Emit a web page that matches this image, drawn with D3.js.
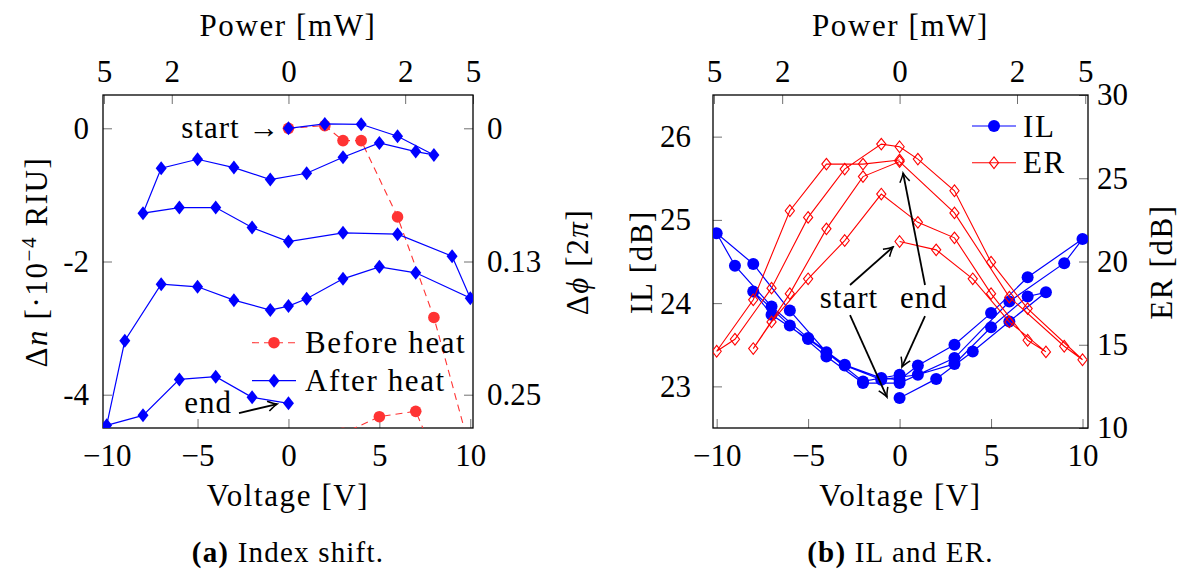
<!DOCTYPE html>
<html><head><meta charset="utf-8">
<script src="https://cdn.jsdelivr.net/npm/d3@7"></script>
<style>
body{margin:0;background:#fff;}
svg text{font-family:"Liberation Serif",serif;fill:#000;}
</style></head><body>
<svg id="c" width="1182" height="576"></svg>
<script>
// ---------- data ----------
// sweep order of the bias voltage (V), same for all "after heat" / IL / ER measurements
const voltage = [0,2,4,6,8, 7,5,3,1,-1,-3,-5,-7, -8,-6,-4,-2,0,3,6,9,10, 7,5,3,1,0,-1,-3,-5,-7,-9,-10, -8,-6,-4,-2,0];
// (a) index shift after heat [1e-4 RIU]
const deltaNAfter = [0,0.066,0.06,-0.12,-0.40, -0.35,-0.22,-0.435,-0.675,-0.77,-0.59,-0.465,-0.6,
  -1.275,-1.19,-1.19,-1.49,-1.70,-1.57,-1.59,-1.92,-2.55,
  -2.17,-2.08,-2.26,-2.56,-2.67,-2.73,-2.58,-2.38,-2.34,-3.19,-4.46,
  -4.31,-3.77,-3.73,-4.04,-4.13];
// (a) index shift before heat
const voltageBefore = [0,2,3,4,6,8,10,8,7,5,3];
const deltaNBefore = [0,0.04,-0.185,-0.185,-1.33,-2.84,-4.84,-4.89,-4.25,-4.33,-4.58];
// (b) insertion loss [dB]
const il = [22.86,23.09,23.42,23.78,24.13, 24.08,23.71,23.27,23.14,23.08,23.25,23.57,23.86,
  24.14,23.73,23.36,23.04,23.04,23.34,24.02,24.48,24.77,
  24.31,23.88,23.50,23.25,23.08,23.10,23.26,23.58,23.96,24.45,24.84,
  24.47,23.91,23.41,23.06,23.14];
// (b) extinction ratio [dB]
const er = [21.2,20.7,18.96,16.37,14.57, 15.27,18.07,21.42,22.35,24.05,21.26,18.96,16.37,
  14.77,18.07,21.96,25.1,26.0,22.92,17.86,14.91,14.1,
  17.17,19.96,24.25,26.15,26.89,27.05,25.55,22.65,18.4,15.33,14.61,
  17.7,23.05,25.85,25.85,26.1];
// ticks
const voltageTicks = [-10,-5,0,5,10];
const deltaNTicks = [0,-2,-4];
const deltaNTickLabels = ["0","-2","-4"];
const phaseTickLabels = ["0","0.13","0.25"];
const ilTicks = [23,24,25,26];
const erTicks = [10,15,20,25,30];
const powerLabels = [5,2,0,2,5];
const powerSign = [-1,-1,0,1,1];
const heaterR = 20.6e3; // ohm
const powerTickV = powerLabels.map((p,i)=>powerSign[i]*Math.sqrt(p*1e-3*heaterR));

// ---------- drawing ----------
const svg = d3.select("#c");
const FS = 31, LS = 1.6;
const defs = svg.append("defs");
defs.append("marker").attr("id","arr").attr("viewBox","-12 -8 14 16")
  .attr("refX",0).attr("refY",0).attr("markerWidth",14).attr("markerHeight",16)
  .attr("markerUnits","userSpaceOnUse").attr("orient","auto")
  .append("path").attr("d","M-9,-5 Q-3,-1 0,0 Q-3,1 -9,5")
  .attr("fill","none").attr("stroke","#000").attr("stroke-width",1.5);

const diamond = (w,h)=>`M0,${-h}L${w},0L0,${h}L${-w},0Z`;
const minus = d => d<0 ? "\u2212"+Math.abs(d) : String(d);

function frame(x0,x1,y0,y1,id){
  defs.append("clipPath").attr("id",id).append("rect")
    .attr("x",x0).attr("y",y0).attr("width",x1-x0).attr("height",y1-y0);
}
function styleAxis(g){
  g.select(".domain").remove();
  g.selectAll(".tick line").attr("stroke","#707070").attr("stroke-width",1);
  g.selectAll(".tick text").attr("font-family","Liberation Serif").attr("font-size",FS).attr("fill","#000");
  g.attr("font-family",null).attr("font-size",null);
}
function axes(x,y,x0,x1,y0,y1,opt){
  styleAxis(svg.append("g").attr("transform",`translate(0,${y1})`)
    .call(d3.axisBottom(x).tickValues(voltageTicks).tickFormat(minus).tickSize(-9).tickSizeOuter(0).tickPadding(16)));
  styleAxis(svg.append("g").attr("transform",`translate(0,${y0})`)
    .call(d3.axisTop(x).tickValues(powerTickV).tickFormat((d,i)=>powerLabels[i]).tickSize(-9).tickSizeOuter(0).tickPadding(13)));
  styleAxis(svg.append("g").attr("transform",`translate(${x0},0)`)
    .call(d3.axisLeft(opt.yl).tickValues(opt.ylTicks).tickFormat(opt.ylFmt).tickSize(-9).tickSizeOuter(0).tickPadding(opt.lpad)));
  styleAxis(svg.append("g").attr("transform",`translate(${x1},0)`)
    .call(d3.axisRight(opt.yr).tickValues(opt.yrTicks).tickFormat(opt.yrFmt).tickSize(-9).tickSizeOuter(0).tickPadding(opt.rpad)));
  svg.append("rect").attr("x",x0).attr("y",y0).attr("width",x1-x0).attr("height",y1-y0)
    .attr("fill","none").attr("stroke","#000").attr("stroke-width",1.3);
  const cx=(x0+x1)/2;
  svg.append("text").attr("x",cx).attr("y",36).attr("text-anchor","middle").attr("font-size",FS).attr("letter-spacing",LS).text("Power [mW]");
  svg.append("text").attr("x",cx).attr("y",506).attr("text-anchor","middle").attr("font-size",FS).attr("letter-spacing",LS).text("Voltage [V]");
}

// ===== panel (a) =====
const ax0=103, ax1=473, ay0=95, ay1=428;
const xA = d3.scaleLinear([-10.2,10.15],[ax0,ax1]);
const yA = d3.scaleLinear([-4.5,0.5],[ay1,ay0]);
frame(ax0,ax1,ay0,ay1,"clipA");
axes(xA,yA,ax0,ax1,ay0,ay1,{yl:yA,ylTicks:deltaNTicks,ylFmt:(d,i)=>deltaNTickLabels[i],lpad:14,
  yr:yA,yrTicks:deltaNTicks,yrFmt:(d,i)=>phaseTickLabels[i],rpad:14});
const gA = svg.append("g").attr("clip-path","url(#clipA)");
const RED="#ff3333", BLUE="#0000ff";
gA.append("path").attr("d",d3.line().x(i=>xA(voltageBefore[i])).y(i=>yA(deltaNBefore[i]))(d3.range(voltageBefore.length)))
  .attr("fill","none").attr("stroke",RED).attr("stroke-width",1.1).attr("stroke-dasharray","7 5");
gA.selectAll("circle.b").data(d3.range(voltageBefore.length)).join("circle")
  .attr("cx",i=>xA(voltageBefore[i])).attr("cy",i=>yA(deltaNBefore[i])).attr("r",5.8).attr("fill",RED);
gA.append("path").attr("d",d3.line().x(i=>xA(voltage[i])).y(i=>yA(deltaNAfter[i]))(d3.range(voltage.length)))
  .attr("fill","none").attr("stroke",BLUE).attr("stroke-width",1.2);
gA.selectAll("path.d").data(d3.range(voltage.length)).join("path").attr("class","d")
  .attr("transform",i=>`translate(${xA(voltage[i])},${yA(deltaNAfter[i])})`)
  .attr("d",diamond(5.5,7)).attr("fill",BLUE);
// legend (a)
{
  const lx0=252, lx1=296, lxt=305, r1=342.7, r2=380.7;
  svg.append("line").attr("x1",lx0).attr("x2",lx1).attr("y1",r1).attr("y2",r1).attr("stroke",RED).attr("stroke-width",1.1).attr("stroke-dasharray","7 5");
  svg.append("circle").attr("cx",(lx0+lx1)/2).attr("cy",r1).attr("r",5.8).attr("fill",RED);
  svg.append("text").attr("x",lxt).attr("y",r1+10.5).attr("font-size",FS).attr("letter-spacing",LS).text("Before heat");
  svg.append("line").attr("x1",lx0).attr("x2",lx1).attr("y1",r2).attr("y2",r2).attr("stroke",BLUE).attr("stroke-width",1.2);
  svg.append("path").attr("transform",`translate(${(lx0+lx1)/2},${r2})`).attr("d",diamond(5.5,7)).attr("fill",BLUE);
  svg.append("text").attr("x",lxt).attr("y",r2+10.5).attr("font-size",FS).attr("letter-spacing",LS).text("After heat");
}
// annotations (a)
svg.append("text").attr("x",xA(0)-8).attr("y",yA(0)+10).attr("text-anchor","end").attr("font-size",FS).attr("letter-spacing",1).text("start \u2192");
svg.append("text").attr("x",xA(-3.1)).attr("y",yA(-4.28)).attr("text-anchor","end").attr("font-size",FS).attr("letter-spacing",1).text("end");
svg.append("line").attr("x1",xA(-2.72)).attr("y1",yA(-4.275)).attr("x2",xA(-0.63)).attr("y2",yA(-4.14))
  .attr("stroke","#000").attr("stroke-width",1.8).attr("marker-end","url(#arr)");
// axis labels (a)
{
  const t = svg.append("text").attr("transform","translate(47,262) rotate(-90)").attr("text-anchor","middle").attr("font-size",FS).attr("letter-spacing",LS);
  t.append("tspan").text("\u0394");
  t.append("tspan").attr("font-style","italic").text("n");
  t.append("tspan").text(" [\u00b710");
  t.append("tspan").attr("dy",-11).attr("font-size",21).text("\u22124");
  t.append("tspan").attr("dy",11).text(" RIU]");
  const t2 = svg.append("text").attr("transform","translate(588,262) rotate(-90)").attr("text-anchor","middle").attr("font-size",FS).attr("letter-spacing",LS);
  t2.append("tspan").text("\u0394");
  t2.append("tspan").attr("font-style","italic").text("\u03d5");
  t2.append("tspan").text(" [2");
  t2.append("tspan").attr("font-style","italic").text("\u03c0");
  t2.append("tspan").text("]");
}
// caption (a)
{
  const c = svg.append("text").attr("x",(ax0+ax1)/2).attr("y",562).attr("text-anchor","middle").attr("font-size",29).attr("letter-spacing",1.2);
  c.append("tspan").attr("font-weight","bold").text("(a)");
  c.append("tspan").text(" Index shift.");
}

// ===== panel (b) =====
const bx0=713, bx1=1088, by0=95, by1=428;
const xB = d3.scaleLinear([-10.2,10.3],[bx0,bx1]);
const yIL = d3.scaleLinear([22.5,26.5],[by1,by0]);
const yER = d3.scaleLinear([10,30],[by1,by0]);
frame(bx0,bx1,by0,by1,"clipB");
axes(xB,yIL,bx0,bx1,by0,by1,{yl:yIL,ylTicks:ilTicks,ylFmt:d=>d,lpad:22,yr:yER,yrTicks:erTicks,yrFmt:d=>d,rpad:9});
const gB = svg.append("g").attr("clip-path","url(#clipB)");
gB.append("path").attr("d",d3.line().x(i=>xB(voltage[i])).y(i=>yIL(il[i]))(d3.range(voltage.length)))
  .attr("fill","none").attr("stroke",BLUE).attr("stroke-width",1.2);
gB.selectAll("circle.il").data(d3.range(voltage.length)).join("circle").attr("class","il")
  .attr("cx",i=>xB(voltage[i])).attr("cy",i=>yIL(il[i])).attr("r",6).attr("fill",BLUE);
const REDB="#ff0000";
gB.append("path").attr("d",d3.line().x(i=>xB(voltage[i])).y(i=>yER(er[i]))(d3.range(voltage.length)))
  .attr("fill","none").attr("stroke",REDB).attr("stroke-width",1.1);
gB.selectAll("path.er").data(d3.range(voltage.length)).join("path").attr("class","er")
  .attr("transform",i=>`translate(${xB(voltage[i])},${yER(er[i])})`)
  .attr("d",diamond(4.6,5.8)).attr("fill","none").attr("stroke",REDB).attr("stroke-width",1.1);
// legend (b)
{
  const lx0=972, lx1=1016, lxt=1023, r1=126, r2=162.7;
  svg.append("line").attr("x1",lx0).attr("x2",lx1).attr("y1",r1).attr("y2",r1).attr("stroke",BLUE).attr("stroke-width",1.2);
  svg.append("circle").attr("cx",(lx0+lx1)/2).attr("cy",r1).attr("r",6).attr("fill",BLUE);
  svg.append("text").attr("x",lxt).attr("y",r1+10.5).attr("font-size",FS).attr("letter-spacing",LS).text("IL");
  svg.append("line").attr("x1",lx0).attr("x2",lx1).attr("y1",r2).attr("y2",r2).attr("stroke",REDB).attr("stroke-width",1.1);
  svg.append("path").attr("transform",`translate(${(lx0+lx1)/2},${r2})`).attr("d",diamond(4.6,5.8)).attr("fill","none").attr("stroke",REDB).attr("stroke-width",1.1);
  svg.append("text").attr("x",lxt).attr("y",r2+10.5).attr("font-size",FS).attr("letter-spacing",LS).text("ER");
}
// annotations (b) in (V, IL) data units
const arrowsB = [
  {from:[-2.71,24.218], to:[-0.36,24.674]},
  {from:[-2.71,23.857], to:[-0.69,22.872]},
  {from:[1.39,24.218], to:[0.19,25.563]},
  {from:[1.39,23.845], to:[0.13,23.233]}
];
arrowsB.forEach(a=>svg.append("line").attr("x1",xB(a.from[0])).attr("y1",yIL(a.from[1]))
  .attr("x2",xB(a.to[0])).attr("y2",yIL(a.to[1])).attr("stroke","#000").attr("stroke-width",1.8).attr("marker-end","url(#arr)"));
svg.append("text").attr("x",xB(-2.77)).attr("y",yIL(23.94)).attr("text-anchor","middle").attr("font-size",FS).attr("letter-spacing",1).text("start");
svg.append("text").attr("x",xB(1.33)).attr("y",yIL(23.94)).attr("text-anchor","middle").attr("font-size",FS).attr("letter-spacing",1).text("end");
// axis labels (b)
svg.append("text").attr("transform","translate(652,262) rotate(-90)").attr("text-anchor","middle").attr("font-size",FS).attr("letter-spacing",LS).text("IL [dB]");
svg.append("text").attr("transform","translate(1172,262) rotate(-90)").attr("text-anchor","middle").attr("font-size",FS).attr("letter-spacing",LS).text("ER [dB]");
{
  const c = svg.append("text").attr("x",(bx0+bx1)/2).attr("y",562).attr("text-anchor","middle").attr("font-size",29).attr("letter-spacing",1.2);
  c.append("tspan").attr("font-weight","bold").text("(b)");
  c.append("tspan").text(" IL and ER.");
}
</script>
</body></html>
